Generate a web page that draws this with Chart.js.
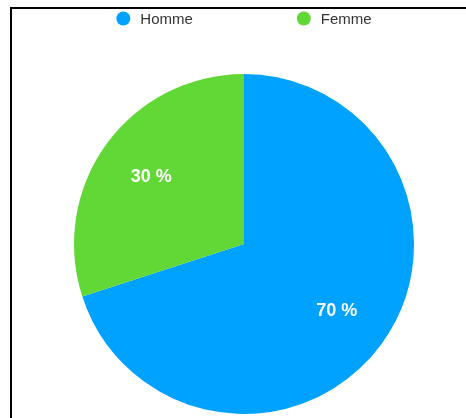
<!DOCTYPE html>
<html>
<head>
<meta charset="utf-8">
<script src="https://cdn.jsdelivr.net/npm/chart.js@4/dist/chart.umd.min.js"></script>
<style>
  html, body { margin: 0; padding: 0; background: #fff; overflow: hidden; }
  #frame { position: absolute; left: 10px; top: 7px; width: 480px; height: 440px;
           border: 2px solid #000; box-sizing: border-box; }
  #wrap { position: absolute; left: 0; top: 0; width: 466px; height: 418px; }
</style>
</head>
<body>
<div id="frame"></div>
<div id="wrap"><canvas id="chart"></canvas></div>
<script>
// Répartition par sexe (en %)
const categories = ['Homme', 'Femme'];
const shares = [70, 30];
const sliceColors = ['#00A2FF', '#61D836'];

// Percentage text placed inside each slice
const sliceLabels = {
  id: 'sliceLabels',
  afterDatasetsDraw(chart) {
    const ctx = chart.ctx;
    const meta = chart.getDatasetMeta(0);
    const values = chart.data.datasets[0].data;
    ctx.save();
    ctx.fillStyle = '#ffffff';
    ctx.font = 'bold 18px "Liberation Sans", Arial, sans-serif';
    ctx.textAlign = 'center';
    ctx.textBaseline = 'middle';
    meta.data.forEach((arc, i) => {
      const p = arc.getProps(['x', 'y', 'startAngle', 'endAngle', 'outerRadius'], true);
      const mid = (p.startAngle + p.endAngle) / 2;
      const r = p.outerRadius * 0.675;
      ctx.fillText(values[i] + ' %', p.x + Math.cos(mid) * r, p.y + Math.sin(mid) * r);
    });
    ctx.restore();
  }
};

// Legend row with round markers, widely spaced above the pie
const roundLegend = {
  id: 'roundLegend',
  afterDraw(chart) {
    const ctx = chart.ctx;
    const area = chart.chartArea;
    const cx = (area.left + area.right) / 2;
    const y = 19;
    const radius = 7;
    const textGap = 10;
    const itemGap = 104;
    const colors = chart.data.datasets[0].backgroundColor;
    ctx.save();
    ctx.font = '15px "Liberation Sans", Arial, sans-serif';
    ctx.textBaseline = 'middle';
    ctx.textAlign = 'left';
    const widths = chart.data.labels.map(t => radius * 2 + textGap + ctx.measureText(t).width);
    const total = widths.reduce((a, b) => a + b, 0) + itemGap * (widths.length - 1);
    let x = cx - total / 2;
    chart.data.labels.forEach((t, i) => {
      ctx.fillStyle = colors[i];
      ctx.beginPath();
      ctx.arc(x + radius, y - 0.5, radius, 0, Math.PI * 2);
      ctx.fill();
      ctx.fillStyle = '#333333';
      ctx.fillText(t, x + radius * 2 + textGap, y + 0.5);
      x += widths[i] + itemGap;
    });
    ctx.restore();
  }
};

new Chart(document.getElementById('chart'), {
  type: 'pie',
  data: {
    labels: categories,
    datasets: [{
      data: shares,
      backgroundColor: sliceColors,
      borderWidth: 0
    }]
  },
  options: {
    responsive: true,
    maintainAspectRatio: false,
    animation: false,
    layout: { padding: { top: 74, bottom: 4, left: 74, right: 52 } },
    plugins: {
      legend: { display: false },
      tooltip: { enabled: false }
    }
  },
  plugins: [sliceLabels, roundLegend]
});
</script>
</body>
</html>
